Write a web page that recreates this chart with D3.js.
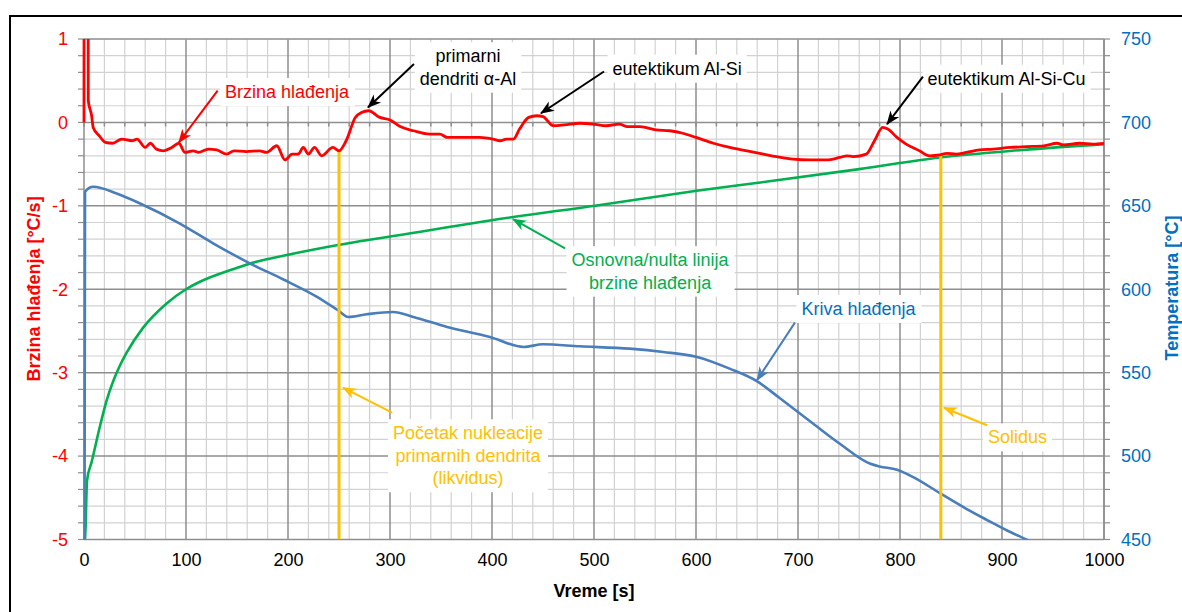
<!DOCTYPE html>
<html>
<head>
<meta charset="utf-8">
<script src="https://cdn.jsdelivr.net/npm/d3@7"></script>
<style>
  html, body { margin: 0; padding: 0; background: #fff; }
  svg { display: block; font-family: "Liberation Sans", Arial, sans-serif; }
</style>
</head>
<body>
<svg id="chart" width="1182" height="612"></svg>
<script>
// ---------------- DATA ----------------
const timeTicks = [0, 100, 200, 300, 400, 500, 600, 700, 800, 900, 1000];
const rateTicks = [-5, -4, -3, -2, -1, 0, 1];
const tempTicks = [450, 500, 550, 600, 650, 700, 750];

// Brzina hlađenja [°C/s] vs vreme [s]
const coolingRate = [
  [0,0],[0.1,2],[4,2],[4.2,0.26],[7.5,0.08],[9,-0.06],[15,-0.16],[21,-0.24],[28,-0.25],[37,-0.2],
  [47,-0.22],[52,-0.2],[60,-0.3],[65,-0.25],[71,-0.32],[78,-0.34],[86,-0.3],[93,-0.25],[99,-0.36],
  [107,-0.34],[112,-0.36],[122,-0.32],[130,-0.33],[140,-0.38],[147,-0.34],[159,-0.35],[172,-0.34],
  [179,-0.36],[189,-0.28],[197,-0.45],[204,-0.38],[210,-0.38],[215,-0.3],[220,-0.38],[226,-0.3],
  [233,-0.4],[244,-0.3],[250,-0.34],[257,-0.22],[266,0.06],[272,0.12],[279,0.14],[290,0.06],
  [300,0.03],[310,-0.05],[323,-0.1],[339,-0.14],[349,-0.14],[356,-0.18],[372,-0.18],[388,-0.18],
  [401,-0.2],[408,-0.22],[414,-0.2],[421,-0.2],[427,-0.08],[436,0.06],[444,0.08],[450,0.07],
  [460,-0.04],[471,-0.03],[486,-0.01],[499,-0.02],[512,-0.04],[525,-0.02],[532,-0.05],[545,-0.05],
  [561,-0.09],[574,-0.1],[587,-0.13],[600,-0.18],[617,-0.25],[633,-0.3],[650,-0.34],[666,-0.38],
  [679,-0.41],[695,-0.44],[712,-0.45],[728,-0.45],[741,-0.42],[748,-0.4],[754,-0.41],[767,-0.38],
  [775,-0.22],[783,-0.06],[788,-0.08],[797,-0.18],[806,-0.26],[819,-0.34],[829,-0.4],[839,-0.39],
  [846,-0.37],[855,-0.38],[865,-0.36],[878,-0.33],[891,-0.32],[908,-0.3],[924,-0.29],[941,-0.28],
  [954,-0.25],[960,-0.27],[976,-0.25],[989,-0.26],[1000,-0.25]
];

// Osnovna/nulta linija brzine hlađenja [°C/s]
const baseline = [
  [0.5,-5.0],[1,-4.99],[3,-4.29],[7.5,-4.07],[15.7,-3.64],[22,-3.34],[28.7,-3.10],[35,-2.92],
  [41.8,-2.76],[58,-2.46],[81,-2.17],[100,-2.0],[113.7,-1.91],[146,-1.76],[169,-1.67],[198.7,-1.59],
  [249,-1.47],[330,-1.31],[401,-1.17],[502.6,-0.995],[600.7,-0.82],[663,-0.72],[760,-0.56],
  [839,-0.42],[920,-0.33],[1000,-0.26]
];

// Kriva hlađenja: temperatura [°C]
const coolingCurve = [
  [0,440],[0.5,440],[1,658.4],[9,661.4],[32,657.4],[55,651.4],[94,639.4],[127,627.4],[163,615.4],
  [195,606.0],[228,595.6],[249,587.4],[259,583.4],[277,585],[303,586.4],[323,583.4],[356,577.4],
  [398,571.4],[431,565.4],[450,567],[486,565.8],[535,564.4],[568,562.4],[601,559.4],[633,552.4],
  [660,544.8],[682,534.8],[715,519.4],[741,507.4],[771,495.4],[780,493.8],[797,491.8],[813,487.4],
  [839,477.8],[865,468.4],[885,461.8],[905,455.4],[926,449.4],[950,442]
];

// vertical markers: [time, rate at top]
const liquidus = [250, -0.34];
const solidus = [840, -0.39];

// annotations: text lines, color, text centre [t, v], arrow tail [t, v], arrow tip [t, v]
const annotations = [
  { lines: ["Brzina hlađenja"], color: "#ff0000", at: [199, 0.37], tail: [131, 0.38], tip: [93, -0.24] },
  { lines: ["primarni", "dendriti α-Al"], color: "#000000", at: [376.5, 0.665], tail: [323.5, 0.70], tip: [278.4, 0.18] },
  { lines: ["eutektikum Al-Si"], color: "#000000", at: [581.5, 0.65], tail: [509.8, 0.61], tip: [448, 0.11] },
  { lines: ["eutektikum Al-Si-Cu"], color: "#000000", at: [904.5, 0.53], tail: [822.5, 0.55], tip: [787.3, -0.02] },
  { lines: ["Osnovna/nulta linija", "brzine hlađenja"], color: "#00b050", at: [555, -1.78], tail: [471.6, -1.51], tip: [420.6, -1.16] },
  { lines: ["Kriva hlađenja"], color: "#0070c0", at: [759.3, -2.23], tail: [697, -2.40], tip: [659.8, -3.09], arrowColor: "#4a7ebb" },
  { lines: ["Početak nukleacije", "primarnih dendrita", "(likvidus)"], color: "#ffc000", at: [376.5, -3.99], tail: [302, -3.48], tip: [253.9, -3.18] },
  { lines: ["Solidus"], color: "#ffc000", at: [915.2, -3.77], tail: [885.3, -3.63], tip: [843.1, -3.42] }
];

// ---------------- DRAWING ----------------
const svg = d3.select("#chart");
const L = 84, R = 1104, T = 39, B = 539.5;
const x = d3.scaleLinear().domain([0, 1000]).range([L, R]);
const yL = d3.scaleLinear().domain([-5, 1]).range([B, T]);
const yR = d3.scaleLinear().domain([450, 750]).range([B, T]);
const fmt = d => String(d);

// outer frame
svg.append("rect").attr("x", 10).attr("y", 16).attr("width", 1200).attr("height", 700)
  .attr("fill", "none").attr("stroke", "#000").attr("stroke-width", 2);

// grid
const grid = svg.append("g");
const minorX = d3.range(0, 1001, 20).filter(d => d % 100 !== 0);
const majorX = d3.range(100, 1001, 100);
const minorY = d3.range(-50, 11, 2).map(d => d / 10).filter(d => Math.abs(d - Math.round(d)) > 1e-9);
const majorY = d3.range(-4, 2, 1);
grid.selectAll(".mx").data(minorX).join("line")
  .attr("x1", d => x(d)).attr("x2", d => x(d)).attr("y1", T).attr("y2", B)
  .attr("stroke", "#d2d2d2").attr("stroke-width", 1.2);
grid.selectAll(".my").data(minorY).join("line")
  .attr("y1", d => yL(d)).attr("y2", d => yL(d)).attr("x1", L).attr("x2", R)
  .attr("stroke", "#d2d2d2").attr("stroke-width", 1.2);
grid.selectAll(".Mx").data(majorX).join("line")
  .attr("x1", d => x(d)).attr("x2", d => x(d)).attr("y1", T).attr("y2", B)
  .attr("stroke", "#8e8e8e").attr("stroke-width", 1.5);
grid.selectAll(".My").data(majorY).join("line")
  .attr("y1", d => yL(d)).attr("y2", d => yL(d)).attr("x1", L).attr("x2", R)
  .attr("stroke", "#8e8e8e").attr("stroke-width", 1.5);

// axis lines
grid.append("line").attr("x1", L).attr("x2", L).attr("y1", T).attr("y2", B).attr("stroke", "#8e8e8e").attr("stroke-width", 1.5);
grid.append("line").attr("x1", L).attr("x2", R).attr("y1", B).attr("y2", B).attr("stroke", "#8e8e8e").attr("stroke-width", 1.5);
grid.append("line").attr("x1", R).attr("x2", R).attr("y1", T).attr("y2", B).attr("stroke", "#8e8e8e").attr("stroke-width", 1.5);
grid.append("line").attr("x1", L).attr("x2", R).attr("y1", T).attr("y2", T).attr("stroke", "#a8a8a8").attr("stroke-width", 1.2);

// minor tick marks on left/right and on the zero line
const allY = d3.range(-50, 11, 2).map(d => d / 10);
grid.selectAll(".lt").data(allY).join("line")
  .attr("x1", L - 6).attr("x2", L).attr("y1", d => yL(d)).attr("y2", d => yL(d))
  .attr("stroke", "#8e8e8e").attr("stroke-width", 1.2);
grid.selectAll(".rt").data(allY).join("line")
  .attr("x1", R).attr("x2", R + 6).attr("y1", d => yL(d)).attr("y2", d => yL(d))
  .attr("stroke", "#8e8e8e").attr("stroke-width", 1.2);
grid.selectAll(".zt").data(d3.range(0, 1001, 20)).join("line")
  .attr("x1", d => x(d)).attr("x2", d => x(d)).attr("y1", yL(0)).attr("y2", yL(0) + 4)
  .attr("stroke", "#8e8e8e").attr("stroke-width", 1.5);

// axes labels through d3 axes
const fontSize = 18;
const xAxis = svg.append("g").attr("transform", `translate(0,${B})`)
  .call(d3.axisBottom(x).tickValues(timeTicks).tickSize(0).tickPadding(14).tickFormat(fmt));
xAxis.select(".domain").remove();
xAxis.selectAll("text").attr("font-size", fontSize).attr("fill", "#000").attr("font-family", "Liberation Sans");

const leftAxis = svg.append("g").attr("transform", `translate(${L},0)`)
  .call(d3.axisLeft(yL).tickValues(rateTicks).tickSize(0).tickPadding(16).tickFormat(fmt));
leftAxis.select(".domain").remove();
leftAxis.selectAll("text").attr("font-size", fontSize).attr("fill", "#ff0000").attr("font-family", "Liberation Sans");

const rightAxis = svg.append("g").attr("transform", `translate(${R},0)`)
  .call(d3.axisRight(yR).tickValues(tempTicks).tickSize(0).tickPadding(17).tickFormat(fmt));
rightAxis.select(".domain").remove();
rightAxis.selectAll("text").attr("font-size", fontSize).attr("fill", "#0070c0").attr("font-family", "Liberation Sans");

// axis titles
svg.append("text").attr("x", 594).attr("y", 597).attr("text-anchor", "middle")
  .attr("font-size", fontSize).attr("font-weight", "bold").attr("fill", "#000").text("Vreme [s]");
svg.append("text").attr("transform", "translate(40,289) rotate(-90)").attr("text-anchor", "middle")
  .attr("font-size", fontSize).attr("font-weight", "bold").attr("fill", "#ff0000").text("Brzina hlađenja [°C/s]");
svg.append("text").attr("transform", "translate(1178,288) rotate(-90)").attr("text-anchor", "middle")
  .attr("font-size", fontSize).attr("font-weight", "bold").attr("fill", "#0070c0").text("Temperatura [°C]");

// clip
svg.append("clipPath").attr("id", "plotclip").append("rect")
  .attr("x", L - 2).attr("y", T).attr("width", R - L + 4).attr("height", B - T);
const plot = svg.append("g").attr("clip-path", "url(#plotclip)");

// series
const lineRate = d3.line().x(d => x(d[0])).y(d => yL(d[1])).curve(d3.curveMonotoneX);
const lineTemp = d3.line().x(d => x(d[0])).y(d => yR(d[1])).curve(d3.curveMonotoneX);

plot.append("path").datum(baseline).attr("d", lineRate)
  .attr("fill", "none").attr("stroke", "#00b050").attr("stroke-width", 2.6).attr("stroke-linejoin", "round");
plot.append("path").datum(coolingCurve).attr("d", lineTemp)
  .attr("fill", "none").attr("stroke", "#4a7ebb").attr("stroke-width", 2.6).attr("stroke-linejoin", "round");

// vertical liquidus / solidus lines
[liquidus, solidus].forEach(m => {
  plot.append("line").attr("x1", x(m[0])).attr("x2", x(m[0])).attr("y1", yL(m[1])).attr("y2", B)
    .attr("stroke", "#ffc000").attr("stroke-width", 3);
});

plot.append("path").datum(coolingRate).attr("d", lineRate)
  .attr("fill", "none").attr("stroke", "#ff0000").attr("stroke-width", 2.8).attr("stroke-linejoin", "round");

// arrow markers
const defs = svg.append("defs");
function marker(color) {
  const id = "arrow" + color.replace("#", "");
  if (defs.select("#" + id).empty()) {
    defs.append("marker").attr("id", id).attr("viewBox", "-14 -6 16 12")
      .attr("refX", 0).attr("refY", 0).attr("markerWidth", 16).attr("markerHeight", 12)
      .attr("markerUnits", "userSpaceOnUse").attr("orient", "auto")
      .append("path").attr("d", "M1,0 L-13,-5.5 L-9,0 L-13,5.5 Z").attr("fill", color);
  }
  return `url(#${id})`;
}

// annotations
const lineH = 22.5;
annotations.forEach(a => {
  const g = svg.append("g");
  const cx = x(a.at[0]), cy = yL(a.at[1]);
  const n = a.lines.length;
  const txt = g.append("text").attr("text-anchor", "middle").attr("font-size", fontSize)
    .attr("fill", a.color).attr("font-family", "Liberation Sans");
  a.lines.forEach((l, i) => {
    txt.append("tspan").attr("x", cx).attr("y", cy + (i - (n - 1) / 2) * lineH + 6.5).text(l);
  });
  const bb = txt.node().getBBox();
  g.insert("rect", "text").attr("x", bb.x - 5).attr("y", bb.y - 4).attr("width", bb.width + 10)
    .attr("height", bb.height + 8).attr("fill", "#fff");
  const ac = a.arrowColor || a.color;
  svg.append("line").attr("x1", x(a.tail[0])).attr("y1", yL(a.tail[1]))
    .attr("x2", x(a.tip[0])).attr("y2", yL(a.tip[1]))
    .attr("stroke", ac).attr("stroke-width", 2).attr("marker-end", marker(ac));
});
</script>
</body>
</html>
